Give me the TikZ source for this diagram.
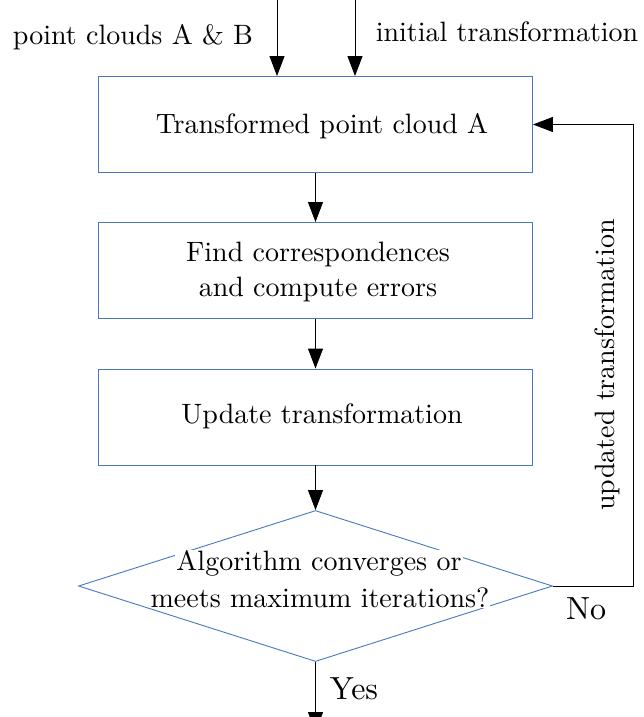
\documentclass[tikz,border=0pt]{standalone}
\usepackage{fontspec}
\setmainfont{lmroman10-regular.otf}
\usetikzlibrary{arrows.meta,shapes.geometric}
\definecolor{boxblue}{HTML}{4A78C0}
\tikzset{
  stage/.style={draw=boxblue, line width=0.9pt, rectangle, minimum width=434pt, minimum height=96pt, inner sep=0pt},
  decision/.style={draw=boxblue, line width=0.9pt, diamond, minimum width=474pt, minimum height=151pt, inner sep=0pt},
  label/.style={font=\fontsize{28}{35}\selectfont, align=center, inner sep=1pt},
  branch/.style={font=\fontsize{32}{38}\selectfont, inner sep=1pt},
  arr/.style={draw=black, line width=1pt, -{Triangle[length=20pt,width=15pt]}}
}
\begin{document}
\begin{tikzpicture}[x=1pt,y=-1pt]
\clip (0,0) rectangle (643,717);
\fill[white] (0,0) rectangle (643,717);

% process stages
\node[stage] (b1) at (315.5,124.5) {};
\node[label] (t1) at (322,126) {Transformed point cloud A};
\node[stage] (b2) at (315.5,270.5) {};
\node[label] (t2) at (318,272) {Find correspondences\\and compute errors};
\node[stage] (b3) at (315.5,417) {};
\node[label] (t3) at (322,416) {Update transformation};

% stopping test, each text line on its own white patch
\node[decision] (dec) at (315.5,586) {};
\node[label, fill=white, inner ysep=0pt] (t4a) at (319,563) {Algorithm converges or};
\node[label, fill=white, inner ysep=0pt] (t4b) at (320,598) {meets maximum iterations?};

% inputs
\coordinate (in1) at (277,0);
\coordinate (in2) at (355,0);
\node[label] (lin1) at (133,37) {point clouds A \& B};
\node[label] (lin2) at (507,32) {initial transformation};
\draw[arr] (in1) -- (in1 |- b1.north);
\draw[arr] (in2) -- (in2 |- b1.north);

% main flow
\draw[arr] (b1) -- (b2);
\draw[arr] (b2) -- (b3);
\draw[arr] (b3) -- (dec.north);

% exit
\coordinate (out) at (315.5,732);
\draw[arr] (dec.south) -- (out);
\node[branch] (yes) at (354,689) {Yes};

% feedback loop
\coordinate (fb) at (633,124.5);
\draw[arr] (dec.east) -| (fb) -- (b1.east);
\node[branch] (no) at (586,609) {No};
\node[label, rotate=90] (upd) at (607,365) {updated transformation};
\end{tikzpicture}
\end{document}
